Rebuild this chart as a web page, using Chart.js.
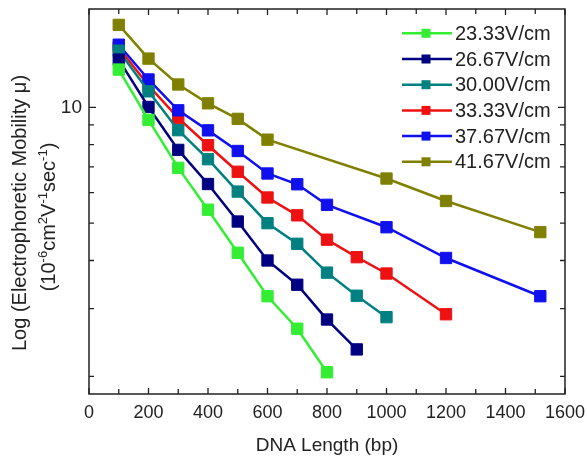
<!DOCTYPE html>
<html>
<head>
<meta charset="utf-8">
<script src="https://cdn.jsdelivr.net/npm/chart.js@4.4.1/dist/chart.umd.min.js"></script>
<style>
    html, body { margin: 0; padding: 0; background: #fff; }
    #wrap { width: 587px; height: 461px; position: relative; }
</style>
</head>
<body>
<div id="wrap"><canvas id="mobility-chart"></canvas></div>
<script>
// DNA fragment lengths (bp), shared x values for all series
const dnaLength = [100, 200, 300, 400, 500, 600, 700, 800, 900, 1000, 1200, 1517];

// electrophoretic mobility (10^-6 cm2 V-1 s-1) per field, null = no point
const mu2333 = [12.53, 9.27, 6.96, 5.42, 4.19, 3.23, 2.66, 2.05, null, null, null, null];
const mu2667 = [13.30, 10.02, 7.75, 6.32, 5.05, 4.00, 3.46, 2.81, 2.35, null, null, null];
const mu3000 = [14.03, 11.00, 8.72, 7.33, 6.04, 5.00, 4.42, 3.72, 3.24, 2.85, null, null];
const mu3333 = [14.28, 11.39, 9.37, 7.97, 6.80, 5.83, 5.24, 4.53, 4.08, 3.70, 2.90, null];
const mu3767 = [14.54, 11.81, 9.82, 8.71, 7.70, 6.73, 6.31, 5.58, null, 4.88, 4.06, 3.23];
const mu4167 = [16.37, 13.38, 11.46, 10.24, 9.33, 8.24, null, null, null, 6.53, 5.71, 4.74];

const fieldLabels = ['23.33V/cm', '26.67V/cm', '30.00V/cm', '33.33V/cm', '37.67V/cm', '41.67V/cm'];

const xTicks = [0, 200, 400, 600, 800, 1000, 1200, 1400, 1600];
const xMinorTicks = [100, 300, 500, 700, 900, 1100, 1300, 1500];
const yTicks = [10];
const yMinorTicks = [2, 3, 4, 5, 6, 7, 8, 9];

const FONT = '"Liberation Sans", Arial, sans-serif';
const INK = '#222';

const seriesValues = [mu2333, mu2667, mu3000, mu3333, mu3767, mu4167];
const seriesColors = ['#33ee33', '#000080', '#008080', '#ee1111', '#1010ee', '#808000'];
// stacking of overlapping squares, lower = on top
const seriesOrder = [0, 1, 2, 5, 3, 4];

function toPoints(vals) {
    return dnaLength.map((x, i) => ({ x: x, y: vals[i] })).filter(p => p.y !== null);
}

const datasets = seriesValues.map((vals, i) => ({
    label: fieldLabels[i],
    data: toPoints(vals),
    borderColor: seriesColors[i],
    backgroundColor: seriesColors[i],
    borderWidth: 2.5,
    pointStyle: 'rect',
    pointRadius: 8,
    pointHoverRadius: 8,
    pointBorderWidth: 1,
    pointBorderColor: seriesColors[i],
    pointBackgroundColor: seriesColors[i],
    order: seriesOrder[i],
    tension: 0
}));

// chart area is pinned, so drop the label overflow paddings
function noOverflow(axis) {
    axis.paddingTop = 0;
    axis.paddingBottom = 0;
    axis.paddingLeft = 0;
    axis.paddingRight = 0;
}

// box around the plot with inward ticks on every side
const frameTicks = {
    id: 'frameTicks',
    beforeDatasetsDraw(chart) {
        const { ctx, chartArea: a, scales: { x, y } } = chart;
        ctx.save();
        ctx.strokeStyle = INK;
        ctx.lineWidth = 1.5;
        ctx.strokeRect(a.left, a.top, a.right - a.left, a.bottom - a.top);
        ctx.lineWidth = 1.3;
        ctx.beginPath();
        const xt = (v, len) => {
            const px = x.getPixelForValue(v);
            ctx.moveTo(px, a.bottom); ctx.lineTo(px, a.bottom - len);
            ctx.moveTo(px, a.top); ctx.lineTo(px, a.top + len);
        };
        const yt = (v, len) => {
            const py = y.getPixelForValue(v);
            ctx.moveTo(a.left, py); ctx.lineTo(a.left + len, py);
            ctx.moveTo(a.right, py); ctx.lineTo(a.right - len, py);
        };
        xTicks.forEach(v => xt(v, 6));
        xMinorTicks.forEach(v => xt(v, 5));
        yTicks.forEach(v => yt(v, 7));
        yMinorTicks.forEach(v => yt(v, 5));
        ctx.stroke();
        ctx.restore();
    }
};

// two-line rotated y title, second line with superscripts
const yTitle = {
    id: 'yTitle',
    afterDraw(chart) {
        const ctx = chart.ctx;
        ctx.save();
        ctx.fillStyle = INK;
        ctx.textBaseline = 'alphabetic';
        ctx.translate(26, 213);
        ctx.rotate(-Math.PI / 2);
        ctx.font = '20px ' + FONT;
        ctx.textAlign = 'center';
        ctx.fillText('Log (Electrophoretic Mobility \u03bc)', 0, 0);
        ctx.restore();

        const parts = [['(10', 0], ['-6', 1], ['cm', 0], ['2', 1], ['V', 0], ['-1', 1],
                       ['sec', 0], ['-1', 1], [')', 0]];
        const big = '20px ' + FONT, small = '13px ' + FONT;
        ctx.save();
        ctx.fillStyle = INK;
        ctx.textAlign = 'left';
        ctx.textBaseline = 'alphabetic';
        let w = 0;
        parts.forEach(([t, s]) => { ctx.font = s ? small : big; w += ctx.measureText(t).width; });
        ctx.translate(55, 217);
        ctx.rotate(-Math.PI / 2);
        let cx = -w / 2;
        parts.forEach(([t, s]) => {
            ctx.font = s ? small : big;
            ctx.fillText(t, cx, s ? -8 : 0);
            cx += ctx.measureText(t).width;
        });
        ctx.restore();
    }
};

// legend inside the plot: line with square, then label
const insideLegend = {
    id: 'insideLegend',
    afterDraw(chart) {
        const ctx = chart.ctx;
        ctx.save();
        chart.data.datasets.forEach((ds, i) => {
            const y = 33.3 + i * 25.7;
            ctx.strokeStyle = ds.borderColor;
            ctx.lineWidth = 2.5;
            ctx.beginPath();
            ctx.moveTo(402, y); ctx.lineTo(452, y);
            ctx.stroke();
            ctx.fillStyle = ds.borderColor;
            ctx.fillRect(421.5, y - 4.5, 9, 9);
            ctx.fillStyle = INK;
            ctx.font = '20px ' + FONT;
            ctx.textAlign = 'left';
            ctx.textBaseline = 'middle';
            ctx.fillText(ds.label, 455, y + 1);
        });
        ctx.restore();
    }
};

new Chart(document.getElementById('mobility-chart').getContext('2d'), {
    type: 'line',
    data: { datasets: datasets },
    options: {
        responsive: true,
        maintainAspectRatio: false,
        animation: false,
        layout: { padding: { top: 6, right: 22, left: 0, bottom: 0 } },
        plugins: {
            legend: { display: false },
            tooltip: { enabled: false }
        },
        scales: {
            x: {
                type: 'linear',
                min: 0,
                max: 1600,
                afterBuildTicks: axis => { axis.ticks = xTicks.map(v => ({ value: v })); },
                afterFit: axis => { axis.height = 67; noOverflow(axis); },
                grid: { display: false, drawTicks: false },
                border: { display: false },
                ticks: {
                    color: INK,
                    padding: 8,
                    font: { size: 18, family: FONT },
                    callback: v => String(v)
                },
                title: {
                    display: true,
                    text: 'DNA Length (bp)',
                    color: INK,
                    font: { size: 19, family: FONT },
                    padding: { top: 0, bottom: 4 }
                }
            },
            y: {
                type: 'logarithmic',
                min: 1.8,
                max: 18,
                afterBuildTicks: axis => { axis.ticks = yTicks.map(v => ({ value: v })); },
                afterFit: axis => { axis.width = 89; noOverflow(axis); },
                grid: { display: false, drawTicks: false },
                border: { display: false },
                ticks: {
                    color: INK,
                    padding: 7,
                    font: { size: 19, family: FONT },
                    callback: v => String(v)
                }
            }
        }
    },
    plugins: [frameTicks, yTitle, insideLegend]
});
</script>
</body>
</html>
